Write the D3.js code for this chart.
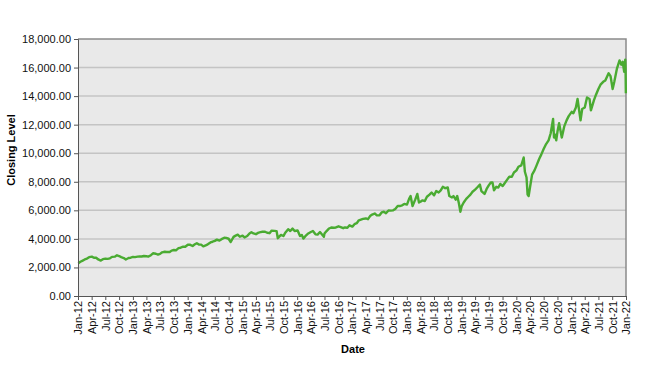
<!DOCTYPE html>
<html lang="en">
<head>
    <meta charset="UTF-8">
    <title>Closing Level</title>
    <script src="https://d3js.org/d3.v7.min.js"></script>
    <style>
        body { margin: 0; background: #fff; font-family: Arial, "Liberation Sans", sans-serif; }
        svg { display: block; }
        .tick text { font-size: 11px; fill: #111; }
        .axis-title { font-size: 11px; font-weight: bold; fill: #000; }
    </style>
</head>
<body>
    <svg id="chart" width="652" height="370"></svg>

    <script>
        // approximate closes (about two per month)
        const closeDates = [
            "2012-01-03","2012-01-17","2012-02-01","2012-02-15","2012-03-01","2012-03-15","2012-04-02","2012-04-16","2012-05-01","2012-05-15","2012-06-01","2012-06-15","2012-07-02","2012-07-16","2012-08-01","2012-08-15","2012-09-04","2012-09-17","2012-10-01","2012-10-15","2012-11-01","2012-11-15","2012-12-03","2012-12-17",
            "2013-01-02","2013-01-15","2013-02-01","2013-02-15","2013-03-01","2013-03-15","2013-04-01","2013-04-15","2013-05-01","2013-05-15","2013-06-03","2013-06-17","2013-07-01","2013-07-15","2013-08-01","2013-08-15","2013-09-03","2013-09-16","2013-10-01","2013-10-15","2013-11-01","2013-11-15","2013-12-02","2013-12-16",
            "2014-01-02","2014-01-15","2014-02-03","2014-02-18","2014-03-03","2014-03-17","2014-04-01","2014-04-15","2014-05-01","2014-05-15","2014-06-02","2014-06-16","2014-07-01","2014-07-15","2014-08-01","2014-08-15","2014-09-02","2014-09-15","2014-10-01","2014-10-15","2014-11-03","2014-11-17","2014-12-01","2014-12-15",
            "2015-01-02","2015-01-15","2015-02-02","2015-02-17","2015-03-02","2015-03-16","2015-04-01","2015-04-15","2015-05-01","2015-05-15","2015-06-01","2015-06-15","2015-07-01","2015-07-15","2015-08-03","2015-08-17","2015-08-25","2015-09-15","2015-10-01","2015-10-15","2015-11-02","2015-11-16","2015-12-01","2015-12-15",
            "2016-01-04","2016-01-20","2016-02-01","2016-02-11","2016-03-01","2016-03-15","2016-04-01","2016-04-15","2016-05-02","2016-05-16","2016-06-01","2016-06-27","2016-07-01","2016-07-15","2016-08-01","2016-08-15","2016-09-01","2016-09-15","2016-10-03","2016-10-17","2016-11-03","2016-11-15","2016-12-01","2016-12-15",
            "2017-01-03","2017-01-17","2017-02-01","2017-02-15","2017-03-01","2017-03-15","2017-04-03","2017-04-17","2017-05-01","2017-05-15","2017-06-01","2017-06-15","2017-07-03","2017-07-17","2017-08-01","2017-08-15","2017-09-01","2017-09-15","2017-10-02","2017-10-16","2017-11-01","2017-11-15","2017-12-01","2017-12-15",
            "2018-01-02","2018-01-16","2018-01-26","2018-02-08","2018-02-26","2018-03-12","2018-03-23","2018-04-02","2018-04-16","2018-05-01","2018-05-15","2018-06-01","2018-06-15","2018-07-02","2018-07-16","2018-08-01","2018-08-15","2018-08-29","2018-09-14","2018-10-01","2018-10-11","2018-10-29","2018-11-08","2018-11-23","2018-12-03","2018-12-14","2018-12-24",
            "2019-01-02","2019-01-15","2019-02-01","2019-02-15","2019-03-01","2019-03-15","2019-04-01","2019-04-15","2019-05-03","2019-05-13","2019-06-03","2019-06-17","2019-07-01","2019-07-15","2019-07-26","2019-08-05","2019-08-20","2019-09-03","2019-09-16","2019-10-02","2019-10-15","2019-11-01","2019-11-15","2019-12-02","2019-12-16",
            "2020-01-02","2020-01-15","2020-02-03","2020-02-19","2020-02-27","2020-03-09","2020-03-16","2020-03-23","2020-04-01","2020-04-15","2020-05-01","2020-05-15","2020-06-01","2020-06-15","2020-07-01","2020-07-15","2020-08-03","2020-08-17","2020-09-02","2020-09-08","2020-09-15","2020-09-23","2020-10-01","2020-10-12","2020-10-30","2020-11-16","2020-12-01","2020-12-15",
            "2021-01-04","2021-01-15","2021-02-01","2021-02-12","2021-03-04","2021-03-15","2021-04-01","2021-04-16","2021-05-03","2021-05-12","2021-06-01","2021-06-15","2021-07-01","2021-07-15","2021-08-02","2021-08-16","2021-09-07","2021-09-20","2021-10-04","2021-10-15","2021-11-01","2021-11-19","2021-12-01","2021-12-10","2021-12-20","2021-12-27","2021-12-29","2021-12-31"
        ];
        const closeValues = [
            2300,2400,2480,2560,2620,2720,2760,2680,2680,2560,2480,2580,2620,2600,2640,2740,2760,2850,2800,2720,2660,2560,2660,2680,
            2740,2720,2760,2770,2770,2800,2780,2760,2860,2990,2960,2900,2950,3060,3100,3080,3080,3180,3220,3200,3350,3380,3450,3450,
            3590,3600,3500,3620,3700,3600,3600,3480,3550,3620,3750,3800,3860,3950,3880,3980,4080,4070,4010,3780,4140,4230,4300,4150,
            4230,4100,4200,4380,4470,4380,4330,4420,4470,4500,4500,4430,4400,4580,4560,4540,4050,4280,4200,4450,4680,4550,4720,4550,
            4590,4200,4280,4020,4250,4380,4480,4550,4320,4300,4480,4150,4370,4550,4730,4800,4780,4800,4880,4830,4750,4800,4780,4950,
            4860,5030,5100,5300,5350,5400,5430,5380,5600,5700,5780,5650,5650,5850,5900,5800,5990,5980,6000,6100,6300,6300,6350,6450,
            6400,6800,7000,6300,6750,7150,6550,6600,6700,6650,6950,7100,7250,7050,7350,7250,7400,7650,7550,7600,7000,6900,7000,6750,7000,6500,5900,
            6300,6550,6800,6950,7100,7300,7450,7600,7800,7350,7150,7500,7750,7950,7950,7400,7650,7600,7850,7700,7900,8150,8350,8350,8650,
            8800,9050,9150,9700,8700,8300,7100,7000,7600,8500,8800,9150,9600,9900,10300,10600,10900,11400,12400,11100,11300,10900,11500,12100,11100,11900,12300,12600,
            12900,12800,13200,13800,12300,13100,13200,13900,13800,13000,13700,14100,14500,14800,15000,15100,15600,15400,14500,15000,15900,16500,16200,16400,15700,16550,15900,14200
        ];
        const yTicks = [0, 2000, 4000, 6000, 8000, 10000, 12000, 14000, 16000, 18000];
        const tickMonthStep = 3;

        const width = 652, height = 370;
        const margin = { top: 39, right: 26, bottom: 74, left: 78 };
        const parse = d3.timeParse("%Y-%m-%d");
        const data = closeDates.map((d, i) => ({ date: parse(d), value: closeValues[i] }));

        const svg = d3.select("#chart");
        const x = d3.scaleTime()
            .domain([parse("2012-01-01"), parse("2022-01-01")])
            .range([margin.left, width - margin.right]);
        const y = d3.scaleLinear()
            .domain([0, 18000])
            .range([height - margin.bottom, margin.top]);

        // plot area
        svg.append("rect")
            .attr("x", margin.left).attr("y", margin.top)
            .attr("width", width - margin.left - margin.right)
            .attr("height", height - margin.top - margin.bottom)
            .attr("fill", "#e9e9e9");

        // gridlines
        svg.append("g")
            .selectAll("line")
            .data(yTicks.slice(1, -1))
            .enter().append("line")
            .attr("x1", margin.left).attr("x2", width - margin.right)
            .attr("y1", d => y(d)).attr("y2", d => y(d))
            .attr("stroke", "#c4c4c4")
            .attr("stroke-width", 1.5);

        // top and right border
        svg.append("path")
            .attr("d", `M${margin.left},${margin.top}H${width - margin.right}V${height - margin.bottom}`)
            .attr("fill", "none")
            .attr("stroke", "#8a8a8a")
            .attr("stroke-width", 1.5);

        const line = d3.line()
            .x(d => x(d.date))
            .y(d => y(d.value));

        svg.append("path")
            .datum(data)
            .attr("d", line)
            .attr("fill", "none")
            .attr("stroke", "#4aab32")
            .attr("stroke-width", 2.4)
            .attr("stroke-linejoin", "round");

        // y axis
        const yAxis = svg.append("g")
            .attr("transform", `translate(${margin.left},0)`)
            .call(d3.axisLeft(y).tickValues(yTicks).tickSize(4).tickPadding(3)
                .tickFormat(d3.format(",.2f")));
        yAxis.select(".domain").attr("stroke", "#555");
        yAxis.selectAll(".tick line").attr("stroke", "#555");

        // x axis
        const xAxis = svg.append("g")
            .attr("transform", `translate(0,${height - margin.bottom})`)
            .call(d3.axisBottom(x)
                .tickValues(d3.timeMonth.every(tickMonthStep).range(parse("2012-01-01"), parse("2022-01-02")))
                .tickSize(4)
                .tickFormat(d3.timeFormat("%b-%y")));
        xAxis.select(".domain").attr("stroke", "#555");
        xAxis.selectAll(".tick line").attr("stroke", "#555");
        xAxis.selectAll(".tick text")
            .attr("transform", "rotate(-90)")
            .attr("text-anchor", "end")
            .attr("x", -5)
            .attr("y", 0)
            .attr("dy", "0.35em");

        // axis titles
        svg.append("text")
            .attr("class", "axis-title")
            .attr("text-anchor", "middle")
            .attr("transform", `translate(15,150) rotate(-90)`)
            .text("Closing Level");

        svg.append("text")
            .attr("class", "axis-title")
            .attr("text-anchor", "middle")
            .attr("x", 353).attr("y", 353)
            .text("Date");
    </script>
</body>
</html>
